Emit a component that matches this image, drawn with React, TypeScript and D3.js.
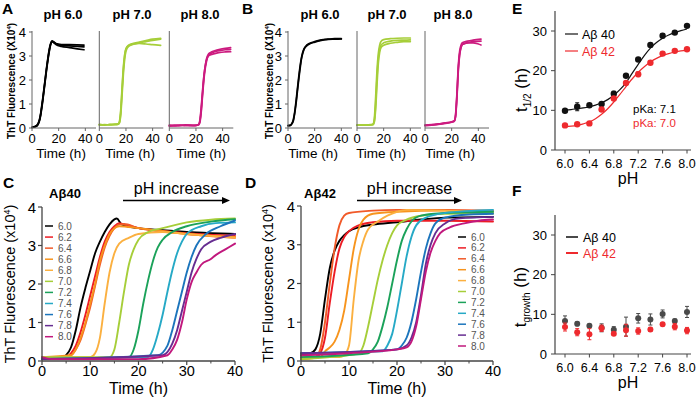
import React from "react";
import * as d3 from "d3";

type P = [number, number];

const FONT = "'Liberation Sans', Arial, Helvetica, sans-serif";

// ---------------- Panel A (Aβ40 replicates) ----------------
const A_titles = ["pH 6.0", "pH 7.0", "pH 8.0"];
const A_pH60: P[][] = [
  [[0,0.02],[2,0.05],[4,0.12],[5,0.22],[6,0.4],[7,0.75],[8,1.15],[9,1.6],[10,2.05],[11,2.5],[12,2.9],[13,3.25],[14,3.5],[15,3.63],[16,3.6],[18,3.52],[22,3.48],[28,3.47],[34,3.46],[39,3.45]],
  [[0,0.03],[2,0.06],[4,0.14],[5,0.25],[6,0.45],[7,0.8],[8,1.2],[9,1.65],[10,2.1],[11,2.55],[12,2.95],[13,3.3],[14,3.52],[15,3.62],[16,3.58],[18,3.5],[22,3.44],[28,3.42],[34,3.4],[39,3.38]],
  [[0,0.02],[2,0.04],[4,0.1],[5,0.2],[6,0.38],[7,0.7],[8,1.1],[9,1.55],[10,2.0],[11,2.45],[12,2.85],[13,3.2],[14,3.48],[15,3.6],[16,3.57],[18,3.48],[22,3.4],[28,3.35],[34,3.3],[39,3.26]],
];
const A_pH70: P[][] = [
  [[0,0.15],[4,0.12],[8,0.15],[12,0.16],[14,0.17],[15,0.22],[16,0.6],[17,1.5],[18,2.4],[19,3.0],[20,3.3],[22,3.45],[25,3.52],[30,3.58],[35,3.64],[40,3.7],[46,3.74]],
  [[0,0.12],[4,0.14],[8,0.13],[12,0.15],[14,0.16],[15,0.2],[16,0.5],[17,1.3],[18,2.2],[19,2.85],[20,3.2],[22,3.4],[25,3.48],[30,3.55],[35,3.6],[40,3.65],[46,3.7]],
  [[0,0.14],[4,0.13],[8,0.14],[12,0.14],[14,0.15],[15,0.25],[16,0.7],[17,1.6],[18,2.5],[19,3.05],[20,3.3],[22,3.43],[25,3.5],[30,3.52],[35,3.5],[40,3.47],[46,3.44]],
];
const A_pH80: P[][] = [
  [[0,0.1],[4,0.12],[8,0.1],[12,0.13],[16,0.12],[20,0.1],[22,0.14],[23,0.3],[24,0.8],[25,1.5],[26,2.15],[27,2.6],[28,2.9],[29,3.05],[31,3.15],[34,3.22],[38,3.28],[42,3.32],[46,3.35]],
  [[0,0.08],[4,0.1],[8,0.12],[12,0.1],[16,0.11],[20,0.12],[22,0.13],[23,0.25],[24,0.7],[25,1.4],[26,2.05],[27,2.5],[28,2.8],[29,2.98],[31,3.1],[34,3.18],[38,3.23],[42,3.26],[46,3.28]],
  [[0,0.12],[4,0.09],[8,0.11],[12,0.12],[16,0.1],[20,0.11],[22,0.15],[23,0.35],[24,0.9],[25,1.6],[26,2.2],[27,2.6],[28,2.85],[29,2.98],[31,3.05],[34,3.1],[38,3.15],[42,3.17],[46,3.18]],
];

// ---------------- Panel B (Aβ42 replicates) ----------------
const B_titles = ["pH 6.0", "pH 7.0", "pH 8.0"];
const B_pH60: P[][] = [
  [[0,0.1],[2,0.12],[3,0.2],[4,0.35],[5,0.65],[6,1.1],[7,1.6],[8,2.1],[9,2.55],[10,2.9],[11,3.15],[12,3.3],[14,3.45],[16,3.52],[20,3.6],[25,3.67],[30,3.7],[35,3.72],[40,3.72]],
  [[0,0.1],[2,0.11],[3,0.18],[4,0.3],[5,0.6],[6,1.0],[7,1.5],[8,2.0],[9,2.45],[10,2.85],[11,3.1],[12,3.27],[14,3.42],[16,3.5],[20,3.58],[25,3.65],[30,3.69],[35,3.7],[40,3.71]],
];
const B_pH70: P[][] = [
  [[0,0.12],[5,0.12],[10,0.13],[12,0.16],[13,0.4],[14,1.3],[15,2.4],[16,3.1],[17,3.45],[18,3.6],[20,3.68],[25,3.72],[30,3.74],[35,3.75],[40,3.75]],
  [[0,0.12],[5,0.12],[10,0.14],[12,0.15],[13,0.3],[14,1.0],[15,2.1],[16,2.9],[17,3.3],[18,3.45],[20,3.55],[25,3.62],[30,3.65],[35,3.66],[40,3.67]],
  [[0,0.12],[5,0.12],[10,0.13],[12,0.14],[13,0.25],[14,0.8],[15,1.8],[16,2.7],[17,3.15],[18,3.35],[20,3.45],[25,3.53],[30,3.57],[35,3.6],[40,3.6]],
];
const B_pH80: P[][] = [
  [[0,0.1],[5,0.13],[10,0.17],[15,0.2],[20,0.25],[22,0.3],[23,0.6],[24,1.5],[25,2.6],[26,3.2],[27,3.45],[28,3.55],[32,3.62],[36,3.66],[42,3.7]],
  [[0,0.12],[5,0.14],[10,0.16],[15,0.21],[20,0.26],[22,0.3],[23,0.5],[24,1.3],[25,2.4],[26,3.05],[27,3.35],[28,3.48],[32,3.56],[36,3.6],[42,3.62]],
  [[0,0.11],[5,0.12],[10,0.15],[15,0.19],[20,0.24],[22,0.28],[23,0.55],[24,1.4],[25,2.5],[26,3.1],[27,3.35],[28,3.48],[32,3.55],[36,3.55],[40,3.5],[42,3.46]],
];

// ---------------- Panels C & D (pH series) ----------------
const pHLabels = ["6.0","6.2","6.4","6.6","6.8","7.0","7.2","7.4","7.6","7.8","8.0"];
const pHColors = ["#000000","#ed1c24","#f15a29","#f7941d","#fbb040","#a6ce39","#1ba25a","#26a9c6","#1c75bc","#662d91","#c1187d"];

const C_curves: P[][] = [
  [[0,0.05],[4,0.08],[5,0.15],[6,0.35],[7,0.8],[8,1.4],[9,1.9],[10,2.35],[11,2.8],[12,3.1],[13,3.35],[14,3.55],[15,3.68],[15.5,3.7],[16.5,3.55],[20,3.45],[25,3.4],[30,3.35],[35,3.32],[40,3.3]],
  [[0,0.05],[5,0.1],[6,0.2],[7,0.4],[8,0.75],[9,1.2],[10,1.7],[11,2.2],[12,2.7],[13,3.1],[14,3.35],[15,3.5],[16,3.58],[17,3.55],[20,3.45],[25,3.38],[30,3.32],[40,3.25]],
  [[0,0.05],[6,0.15],[7,0.3],[8,0.55],[9,0.95],[10,1.4],[11,1.95],[12,2.5],[13,2.95],[14,3.25],[15,3.45],[16,3.55],[17,3.56],[20,3.45],[30,3.3],[40,3.2]],
  [[0,0.1],[6,0.15],[7,0.3],[8,0.6],[9,1.0],[10,1.5],[11,2.0],[12,2.6],[13,3.0],[14,3.3],[15,3.45],[16,3.5],[20,3.45],[30,3.3],[40,3.22]],
  [[0,0.1],[10,0.1],[11,0.2],[12,0.6],[13,1.5],[14,2.3],[15,2.8],[16,3.05],[18,3.2],[20,3.3],[25,3.35],[30,3.3],[40,3.2]],
  [[0,0.1],[14,0.1],[15,0.3],[16,1.0],[17,1.8],[18,2.5],[19,2.9],[20,3.15],[22,3.35],[25,3.45],[30,3.6],[35,3.67],[40,3.7]],
  [[0,0.05],[18,0.1],[19,0.3],[20,0.8],[21,1.5],[22,2.1],[23,2.6],[24,2.95],[25,3.15],[27,3.35],[30,3.5],[35,3.62],[40,3.68]],
  [[0,0.05],[22,0.1],[23,0.3],[24,0.7],[25,1.2],[26,1.8],[27,2.35],[28,2.8],[29,3.1],[30,3.3],[33,3.5],[36,3.58],[40,3.6]],
  [[0,0.05],[24,0.15],[26,0.4],[27,0.8],[28,1.3],[29,1.8],[30,2.3],[31,2.7],[32,3.0],[34,3.3],[37,3.5],[40,3.65]],
  [[0,0.05],[25,0.15],[27,0.45],[28,0.8],[29,1.3],[30,1.8],[31,2.3],[32,2.65],[33,2.9],[35,3.1],[37,3.2],[40,3.3]],
  [[0,0.1],[2,0.05],[10,0.05],[20,0.05],[26,0.15],[27,0.3],[28,0.55],[29,1.0],[30,1.6],[31,2.05],[32,2.3],[33,2.5],[35,2.65],[36,2.75],[38,2.9],[40,3.05]],
];

const D_curves: P[][] = [
  [[0,0.15],[2,0.2],[3,0.3],[4,0.7],[5,1.6],[6,2.4],[7,2.85],[8,3.1],[9,3.25],[10,3.35],[12,3.45],[15,3.52],[20,3.58],[25,3.65],[30,3.7],[40,3.72]],
  [[0,0.1],[3,0.1],[4,0.2],[5,0.6],[6,1.5],[7,2.3],[8,2.9],[9,3.2],[10,3.35],[12,3.5],[15,3.58],[20,3.62],[30,3.62],[40,3.6]],
  [[0,0.05],[3,0.1],[4,0.3],[5,1.0],[6,2.0],[7,2.9],[8,3.5],[9,3.75],[10,3.82],[15,3.88],[20,3.9],[30,3.9],[40,3.88]],
  [[0,0.05],[4,0.1],[5,0.25],[6,0.35],[7,0.5],[8,0.8],[9,1.3],[10,2.1],[11,2.9],[12,3.4],[13,3.65],[15,3.8],[20,3.85],[30,3.88],[40,3.85]],
  [[0,0.1],[8,0.1],[9,0.15],[10,0.4],[11,1.6],[12,2.6],[13,3.1],[14,3.4],[16,3.6],[18,3.75],[20,3.85],[22,3.9],[30,3.88],[40,3.8]],
  [[0,0.05],[6,0.1],[12,0.2],[13,0.4],[14,0.9],[15,1.5],[16,2.1],[17,2.6],[18,3.0],[19,3.3],[20,3.5],[22,3.65],[25,3.75],[30,3.8],[40,3.82]],
  [[0,0.1],[14,0.2],[15,0.3],[16,0.5],[17,0.9],[18,1.4],[19,2.0],[20,2.6],[21,3.1],[22,3.4],[23,3.6],[25,3.75],[30,3.82],[40,3.85]],
  [[0,0.2],[17,0.25],[18,0.4],[19,0.7],[20,1.3],[21,2.0],[22,2.7],[23,3.2],[24,3.5],[26,3.7],[30,3.82],[40,3.9]],
  [[0,0.2],[20,0.3],[21,0.4],[22,0.6],[23,1.0],[24,1.6],[25,2.3],[26,2.9],[27,3.3],[28,3.55],[30,3.7],[35,3.78],[40,3.8]],
  [[0,0.2],[20,0.3],[22,0.4],[23,0.6],[24,1.0],[25,1.7],[26,2.5],[27,3.0],[28,3.3],[30,3.55],[33,3.68],[40,3.72]],
  [[0,0.15],[10,0.2],[20,0.3],[22,0.35],[23,0.5],[24,0.9],[25,1.6],[26,2.3],[27,2.8],[28,3.1],[29,3.3],[31,3.45],[34,3.55],[37,3.62],[40,3.65]],
];

// ---------------- Panels E & F ----------------
const pHValues = [6.0, 6.2, 6.4, 6.6, 6.8, 7.0, 7.2, 7.4, 7.6, 7.8, 8.0];
const E_ab40 = [9.9, 10.9, 11.3, 11.6, 14.2, 18.7, 22.8, 26.5, 28.8, 29.6, 31.3];
const E_ab40_err = [0.3, 1.0, 0.3, 0.4, 0.6, 0.4, 0.3, 0.3, 0.5, 0.3, 0.3];
const E_ab42 = [6.2, 6.5, 6.7, 10.2, 13.0, 16.9, 19.1, 22.0, 24.3, 25.0, 25.4];
const E_ab42_err = [0.2, 0.2, 0.2, 0.3, 0.4, 0.4, 0.6, 0.3, 0.3, 0.3, 0.2];
const fit_pH = [6.0,6.1,6.2,6.3,6.4,6.5,6.6,6.7,6.8,6.9,7.0,7.1,7.2,7.3,7.4,7.5,7.6,7.7,7.8,7.9,8.0];
const fit_ab40 = [10.1,10.2,10.4,10.6,10.9,11.3,11.9,12.7,13.8,15.2,17.0,19.3,21.6,23.8,25.7,27.1,28.2,29.0,29.6,30.1,30.5];
const fit_ab42 = [5.9,6.0,6.2,6.6,7.1,7.9,9.0,10.4,12.1,14.0,16.0,17.9,19.6,21.0,22.2,23.1,23.8,24.3,24.7,25.0,25.2];
const F_ab40 = [8.3, 7.6, 7.1, 6.6, 6.1, 6.9, 9.0, 8.7, 10.1, 8.3, 10.6];
const F_ab40_err = [1.3, 0.5, 0.4, 1.0, 0.8, 2.4, 1.2, 1.4, 1.0, 0.5, 1.4];
const F_ab42 = [6.8, 5.5, 5.0, 6.5, 5.1, 6.0, 5.8, 6.2, 7.5, 6.9, 5.9];
const F_ab42_err = [1.0, 0.9, 1.4, 0.8, 0.4, 1.5, 0.8, 0.5, 0.4, 0.8, 0.8];
const pHTicks = [6.0, 6.4, 6.8, 7.2, 7.6, 8.0];
const tTicks = [0, 10, 20, 30];
const kinTicksSmall = [0, 20, 40];
const kinTicksBig = [0, 10, 20, 30, 40];
const fluTicks = [0, 1, 2, 3, 4];

const RED = "#ee2a2e";

function Curve({ pts, x, y, color, w }: any) {
  const line = d3.line<P>().x(d => x(d[0])).y(d => y(d[1])).curve(d3.curveMonotoneX);
  return <path d={line(pts) || ""} fill="none" stroke={color} strokeWidth={w} strokeLinejoin="round" strokeLinecap="round" />;
}

function SubPanel({ x0, reps, color, title, titleX, timeX, showY }: any) {
  const x = d3.scaleLinear().domain([0, 48]).range([x0, x0 + 64]);
  const y = d3.scaleLinear().domain([0, 4]).range([128, 32]);
  return (
    <g>
      <text x={titleX} y={19} textAnchor="middle" fontWeight="bold" fontSize={13}>{title}</text>
      {reps.map((r: P[], i: number) => <Curve key={i} pts={r} x={x} y={y} color={color} w={1.7} />)}
      <line x1={x0} x2={x0} y1={31} y2={128} stroke="#666" strokeWidth={1} />
      <line x1={x0} x2={x0 + 64} y1={128} y2={128} stroke="#666" strokeWidth={1} />
      {kinTicksSmall.map(t => (
        <g key={t}>
          <line x1={x(t)} x2={x(t)} y1={128} y2={131} stroke="#666" />
          <text x={x(t)} y={143} textAnchor="middle" fontSize={13}>{t}</text>
        </g>
      ))}
      {showY && fluTicks.map(v => (
        <g key={v}>
          <line x1={x0 - 3} x2={x0} y1={y(v)} y2={y(v)} stroke="#666" />
          <text x={x0 - 6} y={y(v) + 4.5} textAnchor="end" fontSize={13}>{v}</text>
        </g>
      ))}
      <text x={timeX} y={158} textAnchor="middle" fontSize={13.5}>Time (h)</text>
    </g>
  );
}

function BigPanel({ x0, x1, y0, y1, curves, title, titleX, arrow, legend, ylabX }: any) {
  const x = d3.scaleLinear().domain([0, 40]).range([x0, x1]);
  const y = d3.scaleLinear().domain([0, 4]).range([y1, y0]);
  const minor = [5, 15, 25, 35];
  return (
    <g>
      {curves.map((c: P[], i: number) => <Curve key={i} pts={c} x={x} y={y} color={pHColors[i]} w={1.9} />)}
      <line x1={x0} x2={x0} y1={y0} y2={y1} stroke="#444" strokeWidth={1.3} />
      <line x1={x0} x2={x1} y1={y1} y2={y1} stroke="#444" strokeWidth={1.3} />
      {fluTicks.map(v => (
        <g key={v}>
          <line x1={x0 - 4} x2={x0} y1={y(v)} y2={y(v)} stroke="#444" strokeWidth={1.2} />
          <text x={x0 - 6} y={y(v) + 5.5} textAnchor="end" fontSize={15}>{v}</text>
        </g>
      ))}
      {kinTicksBig.map(t => (
        <g key={t}>
          <line x1={x(t)} x2={x(t)} y1={y1} y2={y1 + 4} stroke="#444" strokeWidth={1.2} />
          <text x={x(t)} y={375.5} textAnchor="middle" fontSize={14.5}>{t}</text>
        </g>
      ))}
      {minor.map(t => <line key={t} x1={x(t)} x2={x(t)} y1={y1} y2={y1 + 2.5} stroke="#444" />)}
      <text x={(x0 + x1) / 2} y={394} textAnchor="middle" fontSize={16}>Time (h)</text>
      <text transform={`translate(${ylabX},${(y0 + y1) / 2}) rotate(-90)`} textAnchor="middle" fontSize={14.5}>
        ThT Fluorescence (x10<tspan dy={-5} fontSize={9}>4</tspan><tspan dy={5}>)</tspan>
      </text>
      <text x={titleX} y={198} textAnchor="middle" fontWeight="bold" fontSize={13}>{title}</text>
      <text x={(arrow[0] + arrow[1]) / 2} y={194} textAnchor="middle" fontSize={16}>pH increase</text>
      <line x1={arrow[0]} x2={arrow[1] - 6} y1={200.5} y2={200.5} stroke="#000" strokeWidth={1.3} />
      <path d={`M${arrow[1]},200.5 L${arrow[1] - 8},197 L${arrow[1] - 8},204 Z`} fill="#000" />
      {pHLabels.map((l, i) => {
        const ly = legend.y + i * legend.dy;
        return (
          <g key={l}>
            <line x1={legend.x} x2={legend.x + 8} y1={ly} y2={ly} stroke={pHColors[i]} strokeWidth={1.5} />
            <text x={legend.x + 13} y={ly + 3.5} fontSize={10} fill="#555">{l}</text>
          </g>
        );
      })}
    </g>
  );
}

function PhPanel({ top, bottom, children }: any) {
  const x = d3.scaleLinear().domain([6, 8]).range([565, 687]);
  return (
    <g>
      <line x1={555} x2={555} y1={top} y2={bottom} stroke="#444" strokeWidth={1.2} />
      <line x1={555} x2={691} y1={bottom} y2={bottom} stroke="#444" strokeWidth={1.2} />
      {pHTicks.map(p => (
        <g key={p}>
          <line x1={x(p)} x2={x(p)} y1={bottom} y2={bottom + 3.5} stroke="#444" />
          <text x={x(p)} y={bottom + 18} textAnchor="middle" fontSize={12.5}>{p.toFixed(1)}</text>
        </g>
      ))}
      <text x={628} y={bottom + 34} textAnchor="middle" fontSize={16}>pH</text>
      {children}
    </g>
  );
}

export default function App() {
  const xE = d3.scaleLinear().domain([6, 8]).range([565, 687]);
  const yE = d3.scaleLinear().domain([0, 30]).range([150, 31]);
  const yF = d3.scaleLinear().domain([0, 30]).range([354, 235]);
  const fitLine = (vals: number[]) =>
    d3.line<number>().x((_, i) => xE(fit_pH[i])).y(d => yE(d)).curve(d3.curveMonotoneX)(vals) || "";

  const points = (vals: number[], errs: number[], ys: any, color: string, r: number) =>
    vals.map((v, i) => (
      <g key={i}>
        <line x1={xE(pHValues[i])} x2={xE(pHValues[i])} y1={ys(v - errs[i])} y2={ys(v + errs[i])} stroke={color} strokeWidth={1} />
        <line x1={xE(pHValues[i]) - 2} x2={xE(pHValues[i]) + 2} y1={ys(v - errs[i])} y2={ys(v - errs[i])} stroke={color} strokeWidth={1} />
        <line x1={xE(pHValues[i]) - 2} x2={xE(pHValues[i]) + 2} y1={ys(v + errs[i])} y2={ys(v + errs[i])} stroke={color} strokeWidth={1} />
        <circle cx={xE(pHValues[i])} cy={ys(v)} r={r} fill={color} />
      </g>
    ));

  return (
    <svg width={697} height={402} style={{ position: "absolute", left: 0, top: 0, background: "#fff" }} fontFamily={FONT}>
      {/* Panel letters */}
      <text x={2} y={14} fontSize={15.5} fontWeight="bold">A</text>
      <text x={242} y={14} fontSize={15.5} fontWeight="bold">B</text>
      <text x={3} y={188} fontSize={15.5} fontWeight="bold">C</text>
      <text x={245} y={188} fontSize={15.5} fontWeight="bold">D</text>
      <text x={512} y={14} fontSize={15.5} fontWeight="bold">E</text>
      <text x={512} y={196} fontSize={15.5} fontWeight="bold">F</text>

      {/* Panel A */}
      <text transform="translate(15,81) rotate(-90)" textAnchor="middle" fontSize={10} fontWeight="bold">
        ThT Fluorescence (X10<tspan dy={-4} fontSize={6}>4</tspan><tspan dy={4}>)</tspan>
      </text>
      <SubPanel x0={32} reps={A_pH60} color="#000" title={A_titles[0]} titleX={63} timeX={61} showY />
      <SubPanel x0={99.3} reps={A_pH70} color="#a6ce39" title={A_titles[1]} titleX={132} timeX={130} />
      <SubPanel x0={169.3} reps={A_pH80} color="#cc1b7f" title={A_titles[2]} titleX={200} timeX={201} />

      {/* Panel B */}
      <text transform="translate(273,81) rotate(-90)" textAnchor="middle" fontSize={10} fontWeight="bold">
        ThT Fluorescence (X10<tspan dy={-4} fontSize={6}>4</tspan><tspan dy={4}>)</tspan>
      </text>
      <SubPanel x0={288} reps={B_pH60} color="#000" title={B_titles[0]} titleX={320} timeX={313} showY />
      <SubPanel x0={357} reps={B_pH70} color="#a6ce39" title={B_titles[1]} titleX={387} timeX={381} />
      <SubPanel x0={425} reps={B_pH80} color="#cc1b7f" title={B_titles[2]} titleX={453} timeX={450} />

      {/* Panel C */}
      <BigPanel x0={42} x1={235} y0={207} y1={361} curves={C_curves} title="Aβ40" titleX={65}
        arrow={[123, 230]} legend={{ x: 45, y: 226, dy: 11.07 }} ylabX={15} />
      {/* Panel D */}
      <BigPanel x0={301} x1={493} y0={206} y1={361} curves={D_curves} title="Aβ42" titleX={320}
        arrow={[357, 462]} legend={{ x: 458, y: 237, dy: 10.9 }} ylabX={273} />

      {/* Panel E */}
      <PhPanel top={11} bottom={150}>
        {tTicks.map(v => (
          <g key={v}>
            <line x1={551} x2={555} y1={yE(v)} y2={yE(v)} stroke="#444" />
            <text x={547} y={yE(v) + 4.5} textAnchor="end" fontSize={13}>{v}</text>
          </g>
        ))}
        <text transform="translate(527,90) rotate(-90)" textAnchor="middle" fontSize={17}>
          t<tspan dy={4} fontSize={10}>1/2</tspan><tspan dy={-4}> (h)</tspan>
        </text>
        <path d={fitLine(fit_ab40)} fill="none" stroke="#111" strokeWidth={1.2} />
        <path d={fitLine(fit_ab42)} fill="none" stroke={RED} strokeWidth={1.2} />
        {points(E_ab40, E_ab40_err, yE, "#111", 3.2)}
        {points(E_ab42, E_ab42_err, yE, RED, 3.2)}
        <line x1={565} x2={578} y1={34} y2={34} stroke="#111" strokeWidth={1.2} />
        <text x={582} y={38.5} fontSize={12.5}>Aβ 40</text>
        <line x1={565} x2={578} y1={51} y2={51} stroke={RED} strokeWidth={1.2} />
        <text x={582} y={55.5} fontSize={12.5} fill={RED}>Aβ 42</text>
        <text x={633} y={113} fontSize={11.5}>pKa: 7.1</text>
        <text x={633} y={127} fontSize={11.5} fill={RED}>pKa: 7.0</text>
      </PhPanel>

      {/* Panel F */}
      <PhPanel top={215} bottom={354}>
        {tTicks.map(v => (
          <g key={v}>
            <line x1={551} x2={555} y1={yF(v)} y2={yF(v)} stroke="#444" />
            <text x={547} y={yF(v) + 4.5} textAnchor="end" fontSize={13}>{v}</text>
          </g>
        ))}
        <text transform="translate(526,297) rotate(-90)" textAnchor="middle" fontSize={17}>
          t<tspan dy={4} fontSize={10}>growth</tspan><tspan dy={-4}> (h)</tspan>
        </text>
        {points(F_ab40, F_ab40_err, yF, "#4a4a4a", 3)}
        {points(F_ab42, F_ab42_err, yF, RED, 3)}
        <line x1={566} x2={578} y1={237} y2={237} stroke="#4a4a4a" strokeWidth={2} />
        <text x={583} y={241.5} fontSize={12.5}>Aβ 40</text>
        <line x1={566} x2={578} y1={253} y2={253} stroke={RED} strokeWidth={2} />
        <text x={583} y={257.5} fontSize={12.5} fill={RED}>Aβ 42</text>
      </PhPanel>
    </svg>
  );
}
